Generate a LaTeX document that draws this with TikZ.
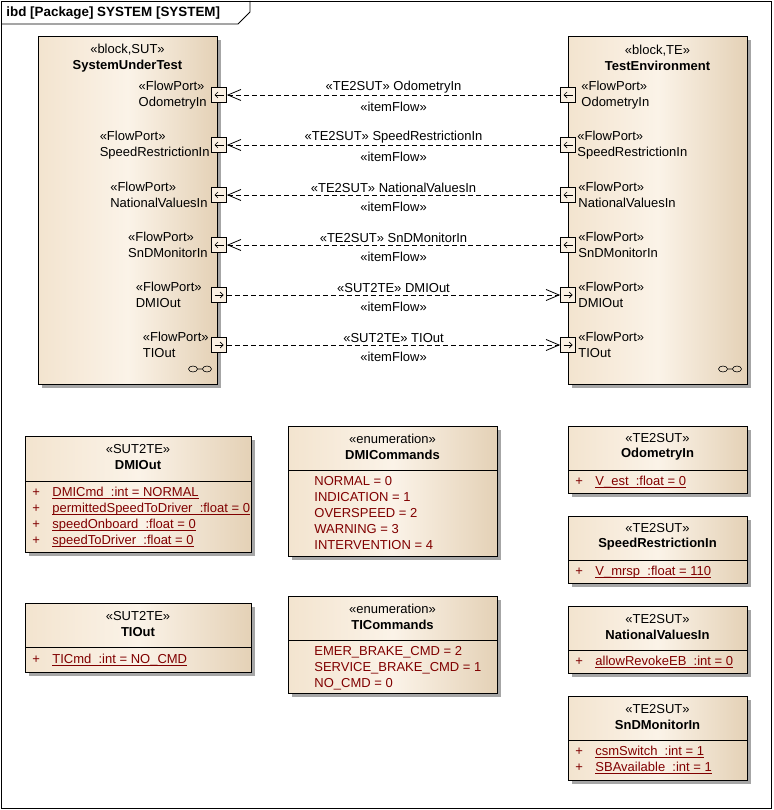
\documentclass[tikz,border=0pt]{standalone}
\usepackage{fontspec}
\setmainfont{Liberation Sans}
\usepackage{tikz}
\usetikzlibrary{shapes, calc, arrows.meta, shadows}

\definecolor{fillL}{RGB}{243,228,207}
\definecolor{fillM}{RGB}{251,243,232}
\definecolor{fillR}{RGB}{228,209,182}
\definecolor{portfill}{RGB}{250,240,226}
\definecolor{attrred}{RGB}{128,0,0}

% underlined attribute text
\newcommand\uattr[1]{\setbox0\hbox{#1}\rlap{\rule[-2.5pt]{\wd0}{0.8pt}}\box0}

\begin{document}
\begin{tikzpicture}[x=1pt, y=-1pt, line width=0.8pt, font=\fontsize{13}{15.5}\selectfont,
	>={Straight Barb[length=13pt, width=11pt]},
	boxshade/.style={draw, anchor=north west, inner sep=0pt,
		drop shadow={shadow xshift=4pt, shadow yshift=-4pt, fill=black!35, opacity=1},
		left color=fillL, right color=fillR, middle color=fillM},
	port/.style={draw, fill=portfill, minimum size=15pt, inner sep=0pt},
	portin/.style={port, path picture={\draw[-{Straight Barb[length=3pt, width=6pt]}, line width=0.7pt]
		([xshift=4.5pt]path picture bounding box.center) -- ([xshift=-4.5pt]path picture bounding box.center);}},
	portout/.style={port, path picture={\draw[-{Straight Barb[length=3pt, width=6pt]}, line width=0.7pt]
		([xshift=-4.5pt]path picture bounding box.center) -- ([xshift=4.5pt]path picture bounding box.center);}},
	portlbl/.style={align=left, inner sep=0pt},
	flow/.style={dash pattern=on 5pt off 3pt},
	flowtxt/.style={inner sep=1.5pt},
	head/.style={align=center, inner sep=0pt},
	attr/.style={anchor=base west, inner sep=0pt, text=attrred}]

	\useasboundingbox (0,0) rectangle (773,810);

	% frame
	\draw (1,1) rectangle (771,808);
	\draw (1,24) -- (238,24) -- (250,12) -- (250,1);
	\node[anchor=west, inner sep=0pt, font=\fontsize{13.4}{15}\selectfont\bfseries] (title) at (6,13) {ibd [Package] SYSTEM [SYSTEM]};

	% blocks
	\node[boxshade, minimum width=179pt, minimum height=348pt] (sut) at (38,36) {};
	\node[head] (sutname) at (127.5,58) {«block,SUT»\\\textbf{SystemUnderTest}};
	\node[boxshade, minimum width=179pt, minimum height=348pt] (te) at (568,36) {};
	\node[head] (tename) at (657.5,58) {«block,TE»\\\textbf{TestEnvironment}};

	\draw[line width=0.6pt] (193,369) ellipse (4.5 and 3) (207,369) ellipse (4.5 and 3) (197.5,369) -- (202.5,369);
	\draw[line width=0.6pt] (723,369) ellipse (4.5 and 3) (737,369) ellipse (4.5 and 3) (727.5,369) -- (732.5,369);

	% ports of SystemUnderTest
	\node[portin]  (s1) at (219,95)  {};
	\node[portin]  (s2) at (219,145) {};
	\node[portin]  (s3) at (219,195) {};
	\node[portin]  (s4) at (219,245) {};
	\node[portout] (s5) at (219,295) {};
	\node[portout] (s6) at (219,345) {};

	\node[portlbl, anchor=east] (s1l) at (207,95)  {«FlowPort»\\OdometryIn};
	\node[portlbl, anchor=east] (s2l) at (210,145) {«FlowPort»\\SpeedRestrictionIn};
	\node[portlbl, anchor=east] (s3l) at (208,195) {«FlowPort»\\NationalValuesIn};
	\node[portlbl, anchor=east] (s4l) at (208,245) {«FlowPort»\\SnDMonitorIn};
	\node[portlbl, anchor=east] (s5l) at (202,295) {«FlowPort»\\DMIOut};
	\node[portlbl, anchor=east] (s6l) at (209,345) {«FlowPort»\\TIOut};

	% ports of TestEnvironment
	\node[portin]  (t1) at (568,95)  {};
	\node[portin]  (t2) at (568,145) {};
	\node[portin]  (t3) at (568,195) {};
	\node[portin]  (t4) at (568,245) {};
	\node[portout] (t5) at (568,295) {};
	\node[portout] (t6) at (568,345) {};

	\node[portlbl, anchor=west] (t1l) at (581,95)  {«FlowPort»\\OdometryIn};
	\node[portlbl, anchor=west] (t2l) at (577,145) {«FlowPort»\\SpeedRestrictionIn};
	\node[portlbl, anchor=west] (t3l) at (578,195) {«FlowPort»\\NationalValuesIn};
	\node[portlbl, anchor=west] (t4l) at (578,245) {«FlowPort»\\SnDMonitorIn};
	\node[portlbl, anchor=west] (t5l) at (578,295) {«FlowPort»\\DMIOut};
	\node[portlbl, anchor=west] (t6l) at (578,345) {«FlowPort»\\TIOut};

	% item flows
	\draw[flow, <-] (s1) -- node[flowtxt, above] {«TE2SUT» OdometryIn} node[flowtxt, below=5pt] {«itemFlow»} (t1);
	\draw[flow, <-] (s2) -- node[flowtxt, above] {«TE2SUT» SpeedRestrictionIn} node[flowtxt, below=5pt] {«itemFlow»} (t2);
	\draw[flow, <-] (s3) -- node[flowtxt, above] {«TE2SUT» NationalValuesIn} node[flowtxt, below=5pt] {«itemFlow»} (t3);
	\draw[flow, <-] (s4) -- node[flowtxt, above] {«TE2SUT» SnDMonitorIn} node[flowtxt, below=5pt] {«itemFlow»} (t4);
	\draw[flow, ->] (s5) -- node[flowtxt, above] {«SUT2TE» DMIOut} node[flowtxt, below=5pt] {«itemFlow»} (t5);
	\draw[flow, ->] (s6) -- node[flowtxt, above] {«SUT2TE» TIOut} node[flowtxt, below=5pt] {«itemFlow»} (t6);

	% DMIOut
	\node[boxshade, minimum width=226pt, minimum height=116pt] (dmiout) at (25,436) {};
	\node[head] at (138,457) {«SUT2TE»\\\textbf{DMIOut}};
	\draw (25,481) -- (251,481);
	\node[attr] at (32,496) {\makebox[20pt][l]{+}\uattr{DMICmd~~:int = NORMAL}};
	\node[attr] at (32,512) {\makebox[20pt][l]{+}\uattr{permittedSpeedToDriver~~:float = 0}};
	\node[attr] at (32,528) {\makebox[20pt][l]{+}\uattr{speedOnboard~~:float = 0}};
	\node[attr] at (32,544) {\makebox[20pt][l]{+}\uattr{speedToDriver~~:float = 0}};

	% TIOut
	\node[boxshade, minimum width=226pt, minimum height=69pt] (tiout) at (25,603) {};
	\node[head] at (138,624) {«SUT2TE»\\\textbf{TIOut}};
	\draw (25,647) -- (251,647);
	\node[attr] at (32,663) {\makebox[20pt][l]{+}\uattr{TICmd~~:int = NO\_CMD}};

	% DMICommands
	\node[boxshade, minimum width=209pt, minimum height=130pt] (dmicmd) at (288,426) {};
	\node[head] at (392.5,447) {«enumeration»\\\textbf{DMICommands}};
	\draw (288,470) -- (497,470);
	\node[attr] at (314,485) {NORMAL = 0};
	\node[attr] at (314,501) {INDICATION = 1};
	\node[attr] at (314,517) {OVERSPEED = 2};
	\node[attr] at (314,533) {WARNING = 3};
	\node[attr] at (314,549) {INTERVENTION = 4};

	% TICommands
	\node[boxshade, minimum width=209pt, minimum height=97pt] (ticmd) at (288,596) {};
	\node[head] at (392.5,617) {«enumeration»\\\textbf{TICommands}};
	\draw (288,640) -- (497,640);
	\node[attr] at (314,655) {EMER\_BRAKE\_CMD = 2};
	\node[attr] at (314,671) {SERVICE\_BRAKE\_CMD = 1};
	\node[attr] at (314,687) {NO\_CMD = 0};

	% OdometryIn
	\node[boxshade, minimum width=179pt, minimum height=67pt] (odo) at (568,426) {};
	\node[head] at (657.5,447) {«TE2SUT»\\\textbf{OdometryIn}};
	\draw (568,470) -- (747,470);
	\node[attr] at (575,485) {\makebox[20pt][l]{+}\uattr{V\_est~~:float = 0}};

	% SpeedRestrictionIn
	\node[boxshade, minimum width=179pt, minimum height=67pt] (speed) at (568,516) {};
	\node[head] at (657.5,537) {«TE2SUT»\\\textbf{SpeedRestrictionIn}};
	\draw (568,560) -- (747,560);
	\node[attr] at (575,575) {\makebox[20pt][l]{+}\uattr{V\_mrsp~~:float = 110}};

	% NationalValuesIn
	\node[boxshade, minimum width=179pt, minimum height=67pt] (natval) at (568,606) {};
	\node[head] at (657.5,627) {«TE2SUT»\\\textbf{NationalValuesIn}};
	\draw (568,650) -- (747,650);
	\node[attr] at (575,665) {\makebox[20pt][l]{+}\uattr{allowRevokeEB~~:int = 0}};

	% SnDMonitorIn
	\node[boxshade, minimum width=179pt, minimum height=84pt] (snd) at (568,696) {};
	\node[head] at (657.5,717) {«TE2SUT»\\\textbf{SnDMonitorIn}};
	\draw (568,740) -- (747,740);
	\node[attr] at (575,755) {\makebox[20pt][l]{+}\uattr{csmSwitch~~:int = 1}};
	\node[attr] at (575,771) {\makebox[20pt][l]{+}\uattr{SBAvailable~~:int = 1}};

\end{tikzpicture}
\end{document}
